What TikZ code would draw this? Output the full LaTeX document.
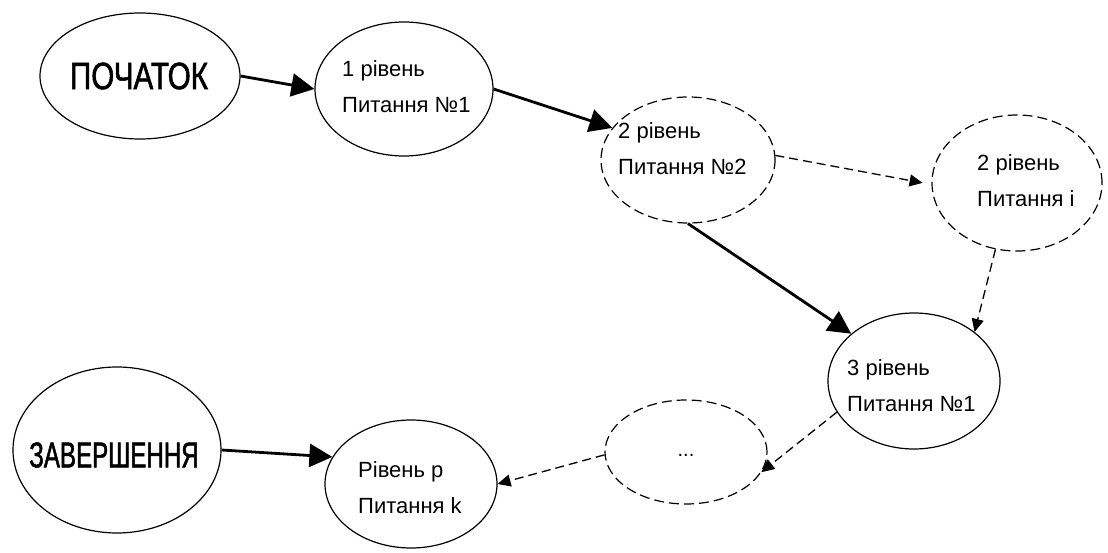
\documentclass[tikz,border=0pt]{standalone}
\usepackage{fontspec}
\setmainfont{Liberation Sans}
\newfontfamily\headfont[FakeStretch=0.78,FakeBold=1.4]{Liberation Sans}
\newfontfamily\headfontnarrow[FakeStretch=0.67,FakeBold=1.4]{Liberation Sans}
\usetikzlibrary{shapes.geometric,arrows.meta}

\begin{document}
\begin{tikzpicture}[x=1pt,y=-1pt,
  oval/.style={draw, ellipse, line width=1.2pt, inner sep=0pt},
  dashedoval/.style={oval, dash pattern=on 10pt off 5pt},
  headtext/.style={inner sep=0pt},
  qtext/.style={font=\fontsize{22}{36}\selectfont, align=left, anchor=west, inner sep=0pt},
  flow/.style={line width=2.8pt, -{Triangle[length=23pt,width=23pt]}},
  dashedflow/.style={line width=1.3pt, dash pattern=on 9pt off 5pt,
                     -{Triangle[length=13pt,width=12pt]}}
]
\useasboundingbox (0,0) rectangle (1108,553);

% ovals
\node[oval, minimum width=200pt, minimum height=126pt] (start) at (140,76) {};
\node[oval, minimum width=178pt, minimum height=134pt] (n1) at (404,89) {};
\node[dashedoval, minimum width=174pt, minimum height=126pt] (n2) at (688,160) {};
\node[dashedoval, minimum width=170pt, minimum height=136pt] (ni) at (1017,183) {};
\node[oval, minimum width=172pt, minimum height=136pt] (n3) at (914,381) {};
\node[dashedoval, minimum width=162pt, minimum height=104pt] (ndots) at (686,452) {};
\node[oval, minimum width=172pt, minimum height=128pt] (np) at (411,484) {};
\node[oval, minimum width=208pt, minimum height=166pt] (finish) at (117,450) {};

% texts
\node[headtext, font=\headfont\fontsize{38}{40}\selectfont] (tstart) at (139,76) {ПОЧАТОК};
\node[headtext, font=\headfontnarrow\fontsize{36}{40}\selectfont] (tfinish) at (114,455) {ЗАВЕРШЕННЯ};
\node[qtext] (t1) at (342,87) {1 рівень\\Питання №1};
\node[qtext] (t2) at (618,149) {2 рівень\\Питання №2};
\node[qtext] (ti) at (977,181) {2 рівень\\Питання і};
\node[qtext] (t3) at (847,386) {3 рівень\\Питання №1};
\node[qtext] (tp) at (358,488) {Рівень р\\Питання k};
\node[font=\fontsize{20}{24}\selectfont, inner sep=0pt] (tdots) at (686,455) {...};

% connectors
\draw[flow] (start.east) -- (n1.west);
\draw[flow] (n1.east) -- (n2.157);
\draw[dashedflow, shorten >=9pt] (n2.3) -- (ni.181);
\draw[flow] (n2.south) -- (n3.143);
\draw[dashedflow] (ni.-108) -- (n3.39);
\draw[dashedflow] (n3.202) -- (ndots.-15);
\draw[dashedflow] (ndots.182) -- (np.east);
\draw[flow] (finish.east) -- (np.161);
\end{tikzpicture}
\end{document}
